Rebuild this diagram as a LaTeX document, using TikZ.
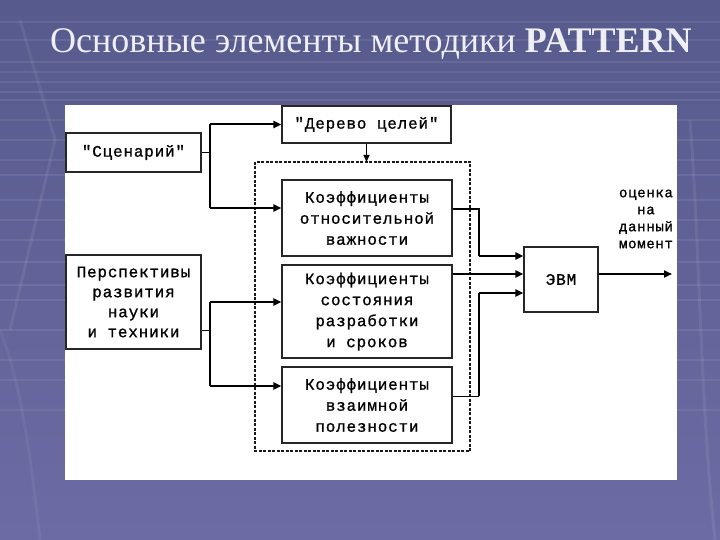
\documentclass[tikz,border=0pt]{standalone}
\usepackage{fontspec}
\setmainfont{Liberation Serif}
\newfontfamily\dfont[LetterSpace=5,FakeBold=1]{Liberation Mono}
\usetikzlibrary{arrows.meta}
\definecolor{bgtop}{HTML}{565A8C}
\definecolor{bgbot}{HTML}{6C6CA4}
\definecolor{ttl}{HTML}{EEEEF4}
\begin{document}
\begin{tikzpicture}[x=1pt,y=-1pt,
  box/.style={draw=black!85,line width=1.3pt,fill=white,inner sep=0pt,align=center,
    font=\dfont\fontsize{16}{21}\selectfont},
  thickln/.style={line width=2pt,black},
  thinln/.style={line width=1pt,black},
  arr/.style={line width=2pt,black,-{Triangle[length=8pt,width=7pt]}},
  stripe/.style={white,opacity=0.08,line width=2pt}]
\useasboundingbox (0,0) rectangle (720,540);
% background
\shade[top color=bgtop,bottom color=bgbot] (0,0) rectangle (720,540);
\foreach \yy in {22,40,62,72,82,92,100,120,140,160,175,200,220,240,262,285,300,330,360,380,410}
  \draw[stripe] (0,\yy) -- (720,\yy);
\draw[white,opacity=0.07,line width=3pt] (20,20) -- (55,140) -- (10,330);
\draw[white,opacity=0.07,line width=3pt] (690,120) .. controls (700,250) and (700,400) .. (715,540);
\draw[white,opacity=0.05,line width=3pt] (40,540) .. controls (30,450) and (20,380) .. (0,330);
% title
\node[anchor=base west,inner sep=0pt,text=ttl,font=\fontsize{36}{40}\selectfont]
  (title) at (50,53) {Основные элементы методики \textbf{PATTERN}};
% white panel
\fill[white] (65,105) rectangle (677,480);
% dashed group
\draw[line width=2pt,black!90,dash pattern=on 3pt off 1.5pt] (255,162) rectangle (470,451);
\coordinate (dtop) at (366.5,162);
% boxes
\node[box,minimum width=135pt,minimum height=39pt] (scen) at (133.5,152.5) {"Сценарий"};
\node[box,minimum width=169pt,minimum height=37pt] (tree) at (366.5,124.5) {"Дерево целей"};
\node[box,minimum width=170pt,minimum height=76pt] (k1) at (367,218) {Коэффициенты\\относительной\\важности};
\node[box,minimum width=170pt,minimum height=93pt] (k2) at (367,311.5) {Коэффициенты\\состояния\\разработки\\и сроков};
\node[box,minimum width=170pt,minimum height=76pt] (k3) at (367,405) {Коэффициенты\\взаимной\\полезности};
\node[box,minimum width=135pt,minimum height=94pt,font=\dfont\fontsize{16}{20}\selectfont] (persp) at (133.5,302) {Перспективы\\развития\\науки\\и техники};
\node[box,minimum width=74pt,minimum height=65pt] (evm) at (561,279.5) {ЭВМ};
\node[align=center,inner sep=0pt,font=\dfont\fontsize{14}{17}\selectfont] (out) at (646,219) {оценка\\на\\данный\\момент};
\coordinate (outend) at (672,274);
% helper levels
\coordinate (ya) at (0,208);
\coordinate (yb) at (0,302);
\coordinate (yc) at (0,386);
\coordinate (yd) at (0,209);
\coordinate (ye) at (0,256);
\coordinate (yf) at (0,274);
\coordinate (yg) at (0,396);
\coordinate (yh) at (0,293);
\coordinate (yi) at (0,330);
\coordinate (xa) at (210,0);
\coordinate (xb) at (479,0);
% scenario connectors
\coordinate (j1) at (xa |- scen.east);
\draw[thinln] (scen.east) -- (j1);
\draw[thickln] (j1 |- tree.west) -- (j1 |- ya);
\draw[arr] (j1 |- tree.west) -- (tree.west);
\draw[arr] (j1 |- ya) -- (k1.west |- ya);
\draw[thinln,-{Triangle[length=7pt,width=6pt]}] (tree.south) -- (dtop);
% perspectives connectors
\coordinate (j2) at (xa |- yi);
\draw[thinln] (persp.east |- yi) -- (j2);
\draw[thickln] (xa |- yb) -- (xa |- yc);
\draw[arr] (xa |- yb) -- (k2.west |- yb);
\draw[arr] (xa |- yc) -- (k3.west |- yc);
% to EVM
\draw[thickln] (k1.east |- yd) -- (xb |- yd) -- (xb |- ye);
\draw[arr] (xb |- ye) -- (evm.west |- ye);
\draw[arr] (k2.east |- yf) -- (evm.west |- yf);
\draw[thinln] (k3.east |- yg) -- (xb |- yg);
\draw[thickln] (xb |- yg) -- (xb |- yh);
\draw[arr] (xb |- yh) -- (evm.west |- yh);
\draw[arr] (evm.east |- yf) -- (outend);
\end{tikzpicture}
\end{document}
